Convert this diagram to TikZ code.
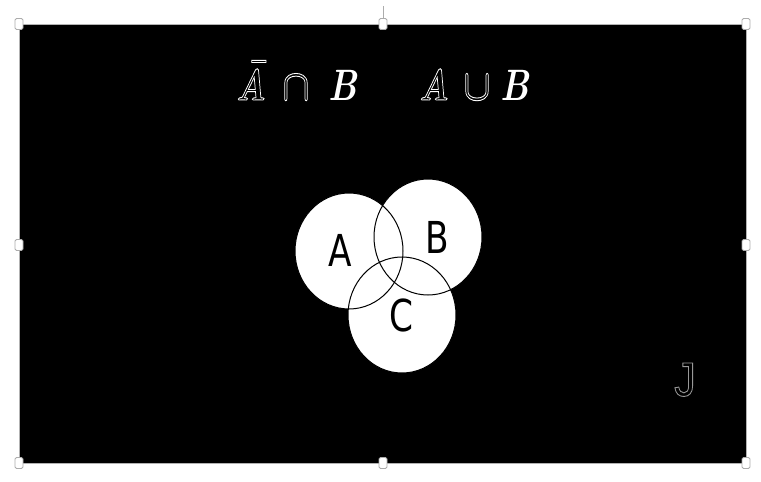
\RequirePackage{fix-cm}
\documentclass[tikz,border=0pt]{standalone}
\usepackage{amsmath}
\usepackage{fontspec}
\usetikzlibrary{shapes.geometric}
\newfontfamily\lblfont{DejaVu Sans}
\newfontfamily\jfont{Liberation Sans}
\newcommand{\outlinetext}[1]{\special{pdf:literal direct 1 Tr 0.9 w}#1\special{pdf:literal direct 0 Tr}}
\newcommand{\bil}[1]{\textbf{\textit{#1}}}
\begin{document}
\begin{tikzpicture}[x=1pt,y=-1pt,
  handle/.style={draw=gray!65, fill=white, rounded corners=1.5pt, line width=0.8pt,
    minimum width=8pt, minimum height=11pt, inner sep=0pt},
  setfill/.style={ellipse, fill=white, minimum width=108pt, minimum height=116pt, inner sep=0pt},
  setline/.style={draw=black, line width=1pt},
  lbl/.style={font=\lblfont\fontsize{44}{44}\selectfont, xscale=0.78, inner sep=0pt, text=black},
  formula/.style={font=\fontsize{44}{44}\selectfont\boldmath, xscale=0.8, inner sep=0pt, text=white, anchor=base},
  ]
\useasboundingbox (0,0) rectangle (761,482);
\fill[white] (0,0) rectangle (761,482);
\node[draw=gray!60, line width=1pt, fill=black, minimum width=727pt, minimum height=439pt,
  inner sep=0pt, anchor=north west] (frame) at (19,24) {};
% handles
\node[handle] (h1) at (19,24) {};
\node[handle] (h2) at (383,24) {};
\node[handle] (h3) at (746,24) {};
\node[handle] (h4) at (19,245) {};
\node[handle] (h5) at (746,245) {};
\node[handle] (h6) at (19,463) {};
\node[handle] (h7) at (383,463) {};
\node[handle] (h8) at (746,463) {};
\coordinate (rot) at (383,6);
\draw[gray!65, line width=0.8pt] (rot) -- (h2.north);
% formulas
\node[formula] (f1A) at (251,100) {\outlinetext{$\skew{7}{\bar}{\bil{A}\rule{0pt}{0.74em}}$}};
\node[formula] (f1op) at (296,100) {\outlinetext{$\cap$}};
\node[formula] (f1B) at (343,100) {\bil{B}};
\node[formula] (f2A) at (434,100) {\outlinetext{\bil{A}}};
\node[formula] (f2op) at (477,100) {\outlinetext{$\cup$}};
\node[formula] (f2B) at (515,100) {\bil{B}};
% Venn circles
\node[setfill] (cA) at (349,251) {};
\node[setfill] (cB) at (428,237) {};
\node[setfill] (cC) at (402,315) {};
\draw[setline] (cA.center) ellipse [x radius=54, y radius=58];
\draw[setline] (cB.center) ellipse [x radius=54, y radius=58];
\draw[setline] (cC.center) ellipse [x radius=54, y radius=58];
\node[lbl] (lA) at (340,250) {A};
\node[lbl] (lB) at (437,237) {B};
\node[lbl] (lC) at (401,315) {C};
% J
\node[font=\jfont\fontsize{48}{48}\selectfont, xscale=0.9, inner sep=0pt, text=gray!80, anchor=base] (lJ) at (685,396) {\outlinetext{J}};
\end{tikzpicture}
\end{document}
